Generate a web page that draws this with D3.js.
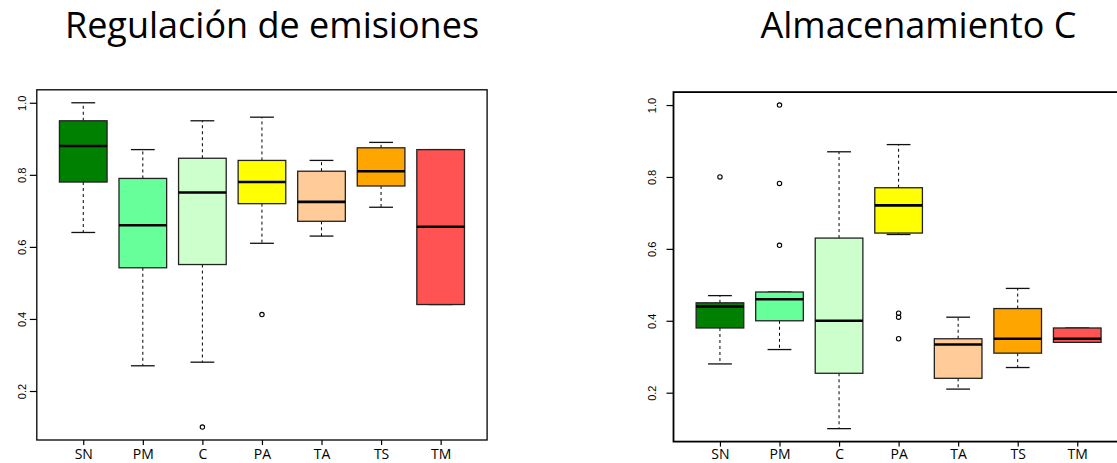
<!DOCTYPE html>
<html>
<head>
<meta charset="utf-8">
<script src="https://cdn.jsdelivr.net/npm/d3@7"></script>
<style>
  html, body { margin: 0; padding: 0; background: #fff; overflow: hidden; }
  svg { display: block; }
</style>
</head>
<body>
<script>
// ---- data ----
const categories = ["SN", "PM", "C", "PA", "TA", "TS", "TM"];
const colors = ["#008000", "#66FF99", "#CCFFCC", "#FFFF00", "#FFCC99", "#FFA500", "#FF5252"];
const yTicks = [0.2, 0.4, 0.6, 0.8, 1.0];

const titleEmisiones = "Regulación de emisiones";
// [lower whisker, Q1, median, Q3, upper whisker]
const emisionesLow    = [0.64, 0.27, 0.28, 0.61, 0.63, 0.71, 0.44];
const emisionesQ1     = [0.78, 0.542, 0.551, 0.72, 0.671, 0.769, 0.44];
const emisionesMedian = [0.88, 0.66, 0.751, 0.78, 0.725, 0.81, 0.656];
const emisionesQ3     = [0.95, 0.79, 0.846, 0.84, 0.81, 0.875, 0.87];
const emisionesHigh   = [1.0, 0.87, 0.95, 0.96, 0.84, 0.89, 0.87];
const emisionesOutliers = [[], [], [0.1], [0.412], [], [], []];

const titleAlmacen = "Almacenamiento C";
const almacenLow    = [0.28, 0.32, 0.10, 0.64, 0.21, 0.27, 0.34];
const almacenQ1     = [0.38, 0.40, 0.254, 0.644, 0.24, 0.31, 0.34];
const almacenMedian = [0.44, 0.46, 0.40, 0.721, 0.334, 0.35, 0.35];
const almacenQ3     = [0.45, 0.48, 0.63, 0.77, 0.35, 0.434, 0.38];
const almacenHigh   = [0.47, 0.48, 0.87, 0.89, 0.41, 0.49, 0.38];
const almacenOutliers = [[0.80], [1.0, 0.782, 0.61], [], [0.421, 0.41, 0.35], [], [], []];

// ---- drawing ----
const W = 1117, H = 463;
const svg = d3.select("body").append("svg").attr("width", W).attr("height", H);

function panel(opt) {
  const g = svg.append("g");
  const x = d3.scaleLinear().domain([0.22, 7.78]).range([opt.left, opt.right]);
  const y = d3.scaleLinear().domain([0.064, 1.036]).range([opt.bottom, opt.top]);
  const bw = 0.8 * (x(2) - x(1));
  const sw = bw / 2;

  const rows = categories.map((c, i) => ({
    c, i, col: colors[i],
    lo: opt.low[i], q1: opt.q1[i], med: opt.med[i], q3: opt.q3[i], hi: opt.high[i],
    out: opt.out[i]
  }));

  // title
  svg.append("text")
    .attr("x", opt.titleX).attr("y", 38)
    .attr("text-anchor", "middle")
    .attr("font-family", "'Open Sans', sans-serif")
    .attr("font-size", 36)
    .attr("fill", "#000")
    .text(opt.title);

  const bx = g.selectAll("g.b").data(rows).join("g").attr("class", "b");
  // whiskers (dashed)
  bx.append("line")
    .attr("x1", d => x(d.i + 1)).attr("x2", d => x(d.i + 1))
    .attr("y1", d => y(d.q3)).attr("y2", d => y(d.hi))
    .attr("stroke", "#000").attr("stroke-width", 1).attr("stroke-dasharray", "3,3");
  bx.append("line")
    .attr("x1", d => x(d.i + 1)).attr("x2", d => x(d.i + 1))
    .attr("y1", d => y(d.q1)).attr("y2", d => y(d.lo))
    .attr("stroke", "#000").attr("stroke-width", 1).attr("stroke-dasharray", "3,3");
  // staples
  ["hi", "lo"].forEach(k => {
    bx.append("line")
      .attr("x1", d => x(d.i + 1) - sw / 2).attr("x2", d => x(d.i + 1) + sw / 2)
      .attr("y1", d => y(d[k])).attr("y2", d => y(d[k]))
      .attr("stroke", "#111").attr("stroke-width", 1.3);
  });
  // boxes
  bx.append("rect")
    .attr("x", d => x(d.i + 1) - bw / 2).attr("width", bw)
    .attr("y", d => y(d.q3)).attr("height", d => y(d.q1) - y(d.q3))
    .attr("fill", d => d.col).attr("stroke", "#222").attr("stroke-width", 1.3);
  // medians
  bx.append("line")
    .attr("x1", d => x(d.i + 1) - bw / 2).attr("x2", d => x(d.i + 1) + bw / 2)
    .attr("y1", d => y(d.med)).attr("y2", d => y(d.med))
    .attr("stroke", "#000").attr("stroke-width", 2.6);
  // outliers
  bx.selectAll("circle").data(d => d.out.map(v => ({ v, i: d.i }))).join("circle")
    .attr("cx", d => x(d.i + 1)).attr("cy", d => y(d.v)).attr("r", 2.2)
    .attr("fill", "none").attr("stroke", "#000").attr("stroke-width", 1.1);

  // frame
  g.append("rect")
    .attr("x", opt.left).attr("y", opt.top)
    .attr("width", opt.right - opt.left).attr("height", opt.bottom - opt.top)
    .attr("fill", "none").attr("stroke", "#000").attr("stroke-width", opt.frameW);

  // y axis
  const ya = g.append("g").attr("transform", `translate(${opt.left},0)`)
    .call(d3.axisLeft(y).tickValues(yTicks).tickFormat(d3.format(".1f")).tickSize(7).tickSizeOuter(0));
  ya.select(".domain").remove();
  ya.selectAll(".tick line").attr("stroke", "#000").attr("stroke-width", 1.2);
  ya.selectAll(".tick text")
    .attr("font-family", "'Liberation Sans', Arial, sans-serif")
    .attr("font-size", 11).attr("fill", "#000")
    .attr("x", 0).attr("dy", null)
    .attr("text-anchor", "middle")
    .attr("transform", `translate(${-opt.labelOff},0) rotate(-90)`)
    .attr("y", 0).attr("dominant-baseline", "central");

  // x axis
  const xa = g.append("g").attr("transform", `translate(0,${opt.bottom})`)
    .call(d3.axisBottom(x).tickValues(d3.range(1, categories.length + 1))
      .tickFormat(d => categories[d - 1]).tickSize(5).tickSizeOuter(0));
  xa.select(".domain").remove();
  xa.selectAll(".tick line").attr("stroke", "#000").attr("stroke-width", 1.2);
  xa.selectAll(".tick text")
    .attr("font-family", "'Open Sans', sans-serif")
    .attr("font-size", 14).attr("fill", "#000")
    .attr("y", 0).attr("dy", null)
    .attr("transform", `translate(0,${opt.labelY})`);
}

panel({
  left: 36.8, right: 487.1, top: 89.8, bottom: 440,
  low: emisionesLow, q1: emisionesQ1, med: emisionesMedian, q3: emisionesQ3, high: emisionesHigh,
  out: emisionesOutliers, title: titleEmisiones, titleX: 272, frameW: 1.3, labelOff: 15, labelY: 19
});
panel({
  left: 673.5, right: 1123.7, top: 92.1, bottom: 441.6,
  low: almacenLow, q1: almacenQ1, med: almacenMedian, q3: almacenQ3, high: almacenHigh,
  out: almacenOutliers, title: titleAlmacen, titleX: 918.5, frameW: 1.8, labelOff: 22, labelY: 17.5
});
</script>
</body>
</html>
